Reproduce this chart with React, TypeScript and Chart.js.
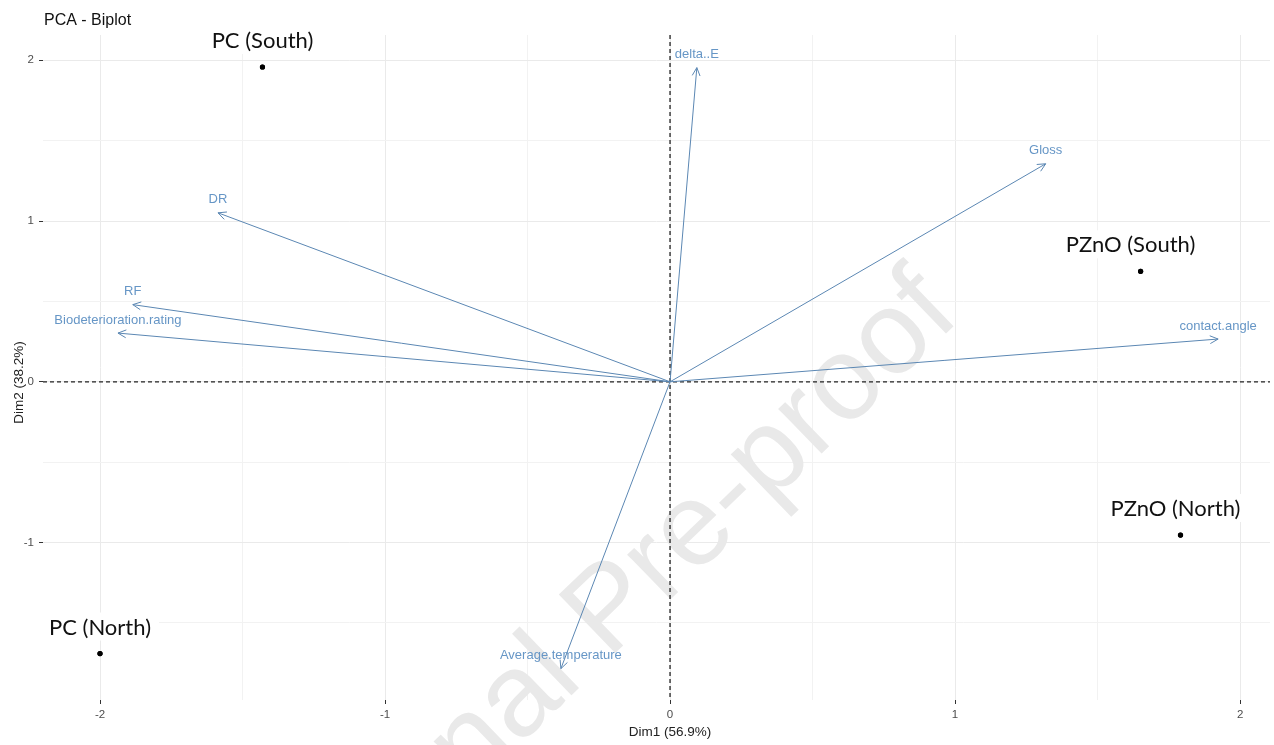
import React, { useEffect, useRef } from "react";
import { Chart, registerables } from "chart.js";

Chart.register(...registerables);

// ---- Data ----
const chartTitle = "PCA - Biplot";
const xTitle = "Dim1 (56.9%)";
const yTitle = "Dim2 (38.2%)";
const watermark = "Journal Pre-proof";

const indNames = ["PC (South)", "PC (North)", "PZnO (South)", "PZnO (North)"];
const indX = [-1.43, -2.0, 1.651, 1.791];
const indY = [1.958, -1.69, 0.687, -0.953];

const varNames = [
  "delta..E",
  "Gloss",
  "contact.angle",
  "DR",
  "RF",
  "Biodeterioration.rating",
  "Average.temperature",
];
const varX = [0.094, 1.318, 1.923, -1.586, -1.885, -1.937, -0.383];
const varY = [1.954, 1.356, 0.266, 1.051, 0.48, 0.303, -1.784];

const xTickValues = [-2, -1, 0, 1, 2];
const yTickValues = [-1, 0, 1, 2];
const xMinorValues = [-1.5, -0.5, 0.5, 1.5];
const yMinorValues = [-1.5, -0.5, 0.5, 1.5];

// ---- Styles ----
const X_MIN = -2.2;
const X_MAX = 2.105;
const Y_MIN = -1.979;
const Y_MAX = 2.157;
const ARROW_COLOR = "#5B87B3";
const VAR_TEXT_COLOR = "#6696C6";
const indLabelNudgeX = [0, 0, -10, -5];

const isMajor = (v: number) => Math.abs(v - Math.round(v)) < 1e-9;

const biplotPlugin = {
  id: "biplot",
  beforeDatasetsDraw(chart: any) {
    const { ctx, chartArea, scales } = chart;
    const x = scales.x;
    const y = scales.y;
    // watermark
    ctx.save();
    ctx.translate(962, 318);
    ctx.rotate((-44 * Math.PI) / 180);
    ctx.font = '118px "Liberation Sans", Arial, sans-serif';
    ctx.fillStyle = "#E9E9E9";
    ctx.textAlign = "right";
    ctx.textBaseline = "alphabetic";
    ctx.fillText(watermark, 0, 0);
    ctx.restore();
    // zero lines
    const x0 = x.getPixelForValue(0);
    const y0 = y.getPixelForValue(0);
    ctx.save();
    ctx.strokeStyle = "#222";
    ctx.lineWidth = 1.3;
    ctx.setLineDash([4, 3]);
    ctx.beginPath();
    ctx.moveTo(x0, chartArea.top);
    ctx.lineTo(x0, chartArea.bottom);
    ctx.moveTo(chartArea.left, y0);
    ctx.lineTo(chartArea.right, y0);
    ctx.stroke();
    ctx.restore();
  },
  afterDatasetsDraw(chart: any) {
    const { ctx, scales } = chart;
    const x = scales.x;
    const y = scales.y;
    const x0 = x.getPixelForValue(0);
    const y0 = y.getPixelForValue(0);
    // arrowheads and variable labels
    ctx.save();
    ctx.strokeStyle = ARROW_COLOR;
    ctx.lineWidth = 1;
    for (let i = 0; i < varNames.length; i++) {
      const tx = x.getPixelForValue(varX[i]);
      const ty = y.getPixelForValue(varY[i]);
      const ang = Math.atan2(ty - y0, tx - x0);
      const len = 9;
      const spread = 0.45;
      ctx.beginPath();
      ctx.moveTo(tx - len * Math.cos(ang - spread), ty - len * Math.sin(ang - spread));
      ctx.lineTo(tx, ty);
      ctx.lineTo(tx - len * Math.cos(ang + spread), ty - len * Math.sin(ang + spread));
      ctx.stroke();
    }
    ctx.font = '13px "Liberation Sans", Arial, sans-serif';
    ctx.fillStyle = VAR_TEXT_COLOR;
    ctx.textAlign = "center";
    ctx.textBaseline = "middle";
    for (let i = 0; i < varNames.length; i++) {
      const tx = x.getPixelForValue(varX[i]);
      const ty = y.getPixelForValue(varY[i]);
      ctx.fillText(varNames[i], tx, ty - 13);
    }
    ctx.restore();
    // individual labels
    ctx.save();
    ctx.font = '22px Lato, "Open Sans", sans-serif';
    ctx.textAlign = "center";
    ctx.textBaseline = "middle";
    for (let i = 0; i < indNames.length; i++) {
      const px = x.getPixelForValue(indX[i]) + indLabelNudgeX[i];
      const py = y.getPixelForValue(indY[i]) - 26;
      const w = ctx.measureText(indNames[i]).width;
      ctx.fillStyle = "#ffffff";
      ctx.fillRect(px - w / 2 - 8, py - 15, w + 16, 28);
      ctx.fillStyle = "#111";
      ctx.fillText(indNames[i], px, py);
    }
    ctx.restore();
    // redraw individual points on top
    const meta = chart.getDatasetMeta(0);
    ctx.save();
    ctx.fillStyle = "#000";
    meta.data.forEach((pt: any) => {
      ctx.beginPath();
      ctx.arc(pt.x, pt.y, 2.6, 0, Math.PI * 2);
      ctx.fill();
    });
    ctx.restore();
  },
  afterDraw(chart: any) {
    const { ctx, chartArea } = chart;
    ctx.save();
    ctx.fillStyle = "#111";
    ctx.font = '16px "Liberation Sans", Arial, sans-serif';
    ctx.textAlign = "left";
    ctx.textBaseline = "alphabetic";
    ctx.fillText(chartTitle, 44, 25);
    ctx.font = '13.5px "Liberation Sans", Arial, sans-serif';
    ctx.fillStyle = "#222";
    ctx.textAlign = "center";
    ctx.textBaseline = "middle";
    const xc = chart.scales.x.getPixelForValue(0);
    ctx.fillText(xTitle, xc, 732);
    ctx.translate(19, (chartArea.top + chartArea.bottom) / 2 + 15);
    ctx.rotate(-Math.PI / 2);
    ctx.fillText(yTitle, 0, 0);
    ctx.restore();
  },
};

export default function App() {
  const canvasRef = useRef<HTMLCanvasElement | null>(null);

  useEffect(() => {
    document.body.style.margin = "0";
    const canvas = canvasRef.current;
    if (!canvas) return;

    const xAll = [...xTickValues, ...xMinorValues].sort((a, b) => a - b);
    const yAll = [...yTickValues, ...yMinorValues].sort((a, b) => a - b);

    const arrowDatasets = varNames.map((name, i) => ({
      type: "line" as const,
      label: name,
      data: [
        { x: 0, y: 0 },
        { x: varX[i], y: varY[i] },
      ],
      borderColor: ARROW_COLOR,
      borderWidth: 1,
      pointRadius: 0,
      showLine: true,
      fill: false,
    }));

    const chart = new Chart(canvas, {
      type: "scatter",
      data: {
        datasets: [
          {
            label: "Individuals",
            data: indNames.map((_, i) => ({ x: indX[i], y: indY[i] })),
            backgroundColor: "#000",
            borderWidth: 0,
            pointRadius: 2.6,
          } as any,
          ...arrowDatasets,
        ],
      },
      options: {
        responsive: false,
        animation: false,
        layout: { padding: { top: 35, right: 0, left: 0, bottom: 0 } },
        plugins: {
          legend: { display: false },
          tooltip: { enabled: false },
          title: { display: false },
        },
        scales: {
          x: {
            type: "linear",
            min: X_MIN,
            max: X_MAX,
            afterBuildTicks: (scale: any) => {
              scale.ticks = xAll.map((v) => ({ value: v }));
            },
            afterFit: (scale: any) => {
              scale.height = 45;
            },
            ticks: {
              autoSkip: false,
              maxRotation: 0,
              padding: 4,
              color: "#4D4D4D",
              font: { family: '"Liberation Sans", Arial, sans-serif', size: 11.5 },
              callback: (v: any) => (isMajor(Number(v)) ? String(Math.round(Number(v))) : ""),
            },
            grid: {
              color: (c: any) => (isMajor(c.tick?.value ?? 0) ? "#EAEAEA" : "#F2F2F2"),
              lineWidth: 1,
              tickLength: 4,
              tickColor: (c: any) => (isMajor(c.tick?.value ?? 0) ? "#333" : "rgba(0,0,0,0)"),
            },
            border: { display: false },
          },
          y: {
            type: "linear",
            min: Y_MIN,
            max: Y_MAX,
            afterBuildTicks: (scale: any) => {
              scale.ticks = yAll.map((v) => ({ value: v }));
            },
            afterFit: (scale: any) => {
              scale.width = 43;
            },
            ticks: {
              autoSkip: false,
              padding: 5,
              color: "#4D4D4D",
              font: { family: '"Liberation Sans", Arial, sans-serif', size: 11.5 },
              callback: (v: any) => (isMajor(Number(v)) ? String(Math.round(Number(v))) : ""),
            },
            grid: {
              color: (c: any) => (isMajor(c.tick?.value ?? 0) ? "#EAEAEA" : "#F2F2F2"),
              lineWidth: 1,
              tickLength: 4,
              tickColor: (c: any) => (isMajor(c.tick?.value ?? 0) ? "#333" : "rgba(0,0,0,0)"),
            },
            border: { display: false },
          },
        },
      },
      plugins: [biplotPlugin],
    } as any);

    return () => chart.destroy();
  }, []);

  return (
    <div style={{ width: 1274, height: 745, position: "relative", background: "#fff" }}>
      <canvas ref={canvasRef} width={1274} height={745} style={{ display: "block" }} />
    </div>
  );
}
